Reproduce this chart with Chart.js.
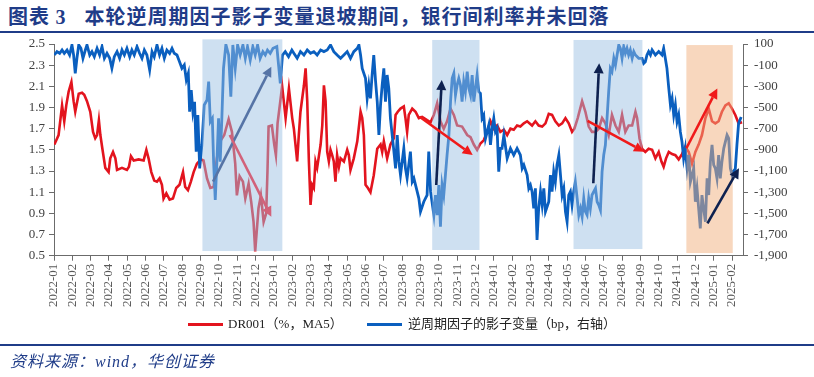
<!DOCTYPE html>
<html><head><meta charset="utf-8">
<script src="https://cdn.jsdelivr.net/npm/chart.js@4.4.1/dist/chart.umd.min.js"></script>
<style>
html,body{margin:0;padding:0;background:#fff;}
#wrap{position:relative;width:814px;height:377px;overflow:hidden;background:#fff;}
#title{position:absolute;left:8px;top:3px;font-weight:bold;font-size:20px;font-family:"Noto Sans CJK SC";color:#1F3C88;white-space:nowrap;letter-spacing:1px;line-height:26px}
#title .n{font-family:"Liberation Serif";}
.rule{position:absolute;left:0;width:814px;height:2px;background:#1F3C88}
canvas{position:absolute;left:0;top:0}
.legline{position:absolute;height:3px;width:35px}
.legtxt{position:absolute;top:316px;font-size:13px;line-height:16px;font-family:"Liberation Serif","Noto Sans CJK SC";color:#222;white-space:nowrap}
#src{position:absolute;left:10px;top:352px;font-size:16px;line-height:20px;font-style:italic;font-family:"Liberation Serif","Noto Sans CJK SC";color:#1F3C88;letter-spacing:1px;white-space:nowrap}
</style></head>
<body>
<div id="wrap">
  <div id="title">图表 <span class="n">3</span><span style="margin-left:18px">本轮逆周期因子影子变量退坡期间，银行间利率并未回落</span></div>
  <div class="rule" style="top:31px"></div>
  <canvas id="c" width="814" height="377"></canvas>
  <div class="legline" style="left:188px;top:323px;background:#E3141E"></div>
  <div class="legtxt" style="left:228px">DR001（%，MA5）</div>
  <div class="legline" style="left:367px;top:323px;background:#0A5FBF"></div>
  <div class="legtxt" style="left:408px">逆周期因子的影子变量（bp，右轴）</div>
  <div class="rule" style="top:344px"></div>
  <div id="src">资料来源：wind，华创证券</div>
</div>
<script>
// month tick labels (x value i = start of months[i])
const months = [];
for (let y = 2022; y <= 2025; y++) for (let m = 1; m <= 12; m++) {
  if (y === 2025 && m > 2) break;
  months.push(y + '-' + String(m).padStart(2, '0'));
}
const leftTicks = [0.5, 2.5, 0.2];
const rightTicks = [-1900, 100, 200];

// DR001 (%, MA5) — x in months since 2022-01
const drX = [0.02,0.25,0.44,0.56,0.67,0.8,0.95,1.07,1.16,1.35,1.53,1.65,1.8,1.98,2.13,2.25,2.35,2.45,2.53,2.64,2.8,2.98,3.07,3.22,3.35,3.44,3.71,3.98,4.09,4.2,4.35,4.62,4.89,5.04,5.16,5.31,5.47,5.62,5.76,5.89,5.98,6.13,6.31,6.49,6.67,6.85,7.04,7.16,7.31,7.47,7.62,7.8,8.02,8.16,8.35,8.53,8.71,8.89,9.07,9.29,9.53,9.71,9.89,9.98,10.13,10.31,10.44,10.62,10.76,10.89,10.98,11.16,11.29,11.44,11.58,11.65,11.71,11.89,12.02,12.11,12.2,12.35,12.45,
12.64,12.82,13.0,13.09,13.27,13.36,13.45,13.64,13.73,13.82,13.91,14.0,14.09,14.18,14.27,14.36,14.55,14.64,14.73,14.82,14.91,15.0,15.09,15.18,15.27,15.36,15.45,15.55,15.64,15.82,16.0,16.09,16.18,16.36,16.55,16.73,16.82,16.91,17.0,17.13,17.27,17.45,17.64,17.82,17.91,18.0,18.18,18.36,18.55,18.64,18.76,18.91,19.09,19.18,19.27,19.36,19.55,19.73,19.91,20.09,20.36,20.55,20.73,20.91,21.09,21.27,21.45,21.64,21.82,22.0,22.27,22.55,22.73,22.91,23.09,23.27,23.45,23.64,23.82,24.0,24.18,24.36,24.55,24.73,24.91,25.09,25.27,25.45,25.64,25.82,
26.09,26.27,26.45,26.64,26.82,27.0,27.18,27.36,27.55,27.73,27.91,28.09,28.27,28.4,28.58,28.82,29.0,29.18,29.36,29.55,29.73,29.91,30.09,30.27,30.45,30.64,30.82,31.0,31.18,31.36,31.55,31.73,31.82,31.95,32.09,32.27,32.45,32.64,32.82,33.0,33.15,33.27,33.4,33.55,33.73,33.91,34.09,34.27,34.45,34.64,34.82,35.0,35.18,35.36,35.55,35.73,35.91,36.09,36.27,36.45,36.64,36.82,37.0,37.18,37.36,37.55];
const drY = [1.55,1.64,1.92,1.77,1.92,2.05,2.14,1.96,1.86,2.03,2.04,2.02,1.96,1.86,1.67,1.61,1.64,1.78,1.64,1.51,1.33,1.29,1.42,1.48,1.42,1.31,1.33,1.31,1.34,1.44,1.40,1.41,1.40,1.50,1.42,1.29,1.21,1.20,1.23,1.17,1.04,1.09,1.03,1.04,1.14,1.17,1.29,1.15,1.12,1.20,1.29,1.37,1.41,1.40,1.23,1.14,1.15,1.42,1.58,1.64,1.79,1.67,1.37,1.07,1.25,1.20,1.04,1.18,1.01,0.82,0.54,0.95,1.07,0.82,0.90,1.30,1.72,1.73,1.55,1.45,1.75,1.96,2.10,
1.80,2.08,1.80,1.70,1.39,1.64,1.86,2.11,2.27,1.96,1.39,0.98,1.17,1.14,1.39,1.33,1.55,1.73,2.11,1.96,1.48,1.39,1.50,1.45,1.39,1.20,1.45,1.34,1.42,1.39,1.50,1.45,1.31,1.42,1.58,1.86,1.80,1.64,1.17,1.14,1.10,1.26,1.51,1.55,1.48,1.58,1.42,1.55,1.61,1.83,1.86,1.89,1.91,1.80,1.67,1.83,1.89,1.86,1.80,1.81,1.78,1.76,1.83,1.94,1.77,1.70,1.77,1.89,1.83,1.73,1.72,1.64,1.62,1.55,1.50,1.56,1.59,1.67,1.77,1.70,1.73,1.67,1.69,1.64,1.70,1.69,1.73,1.72,1.75,1.77,
1.73,1.77,1.73,1.72,1.75,1.84,1.83,1.77,1.73,1.75,1.80,1.75,1.67,1.70,1.80,1.96,1.86,1.72,1.67,1.67,1.70,1.80,1.75,1.64,1.83,1.73,1.67,1.83,1.67,1.73,1.73,1.86,1.80,1.61,1.51,1.48,1.51,1.50,1.42,1.48,1.39,1.34,1.42,1.48,1.46,1.45,1.41,1.46,1.53,1.48,1.37,1.48,1.55,1.64,1.80,1.89,1.77,1.75,1.77,1.86,1.92,1.94,1.89,1.83,1.75,1.76];

// Counter-cyclical factor shadow variable (bp, right axis)
const sfX = [0.02,0.16,0.31,0.44,0.56,0.71,0.85,0.98,1.07,1.16,1.25,1.35,1.47,1.58,1.71,1.8,1.95,2.07,2.2,2.35,2.49,2.62,2.75,2.89,3.04,3.16,3.29,3.44,3.58,3.71,3.84,3.98,4.13,4.25,4.38,4.53,4.67,4.8,4.93,5.07,5.22,5.35,5.47,5.62,5.76,5.89,6.02,6.16,6.31,6.44,6.56,6.71,6.85,6.98,7.11,7.22,7.33,7.4,7.49,7.58,7.67,7.76,7.85,7.95,8.07,8.2,8.35,8.44,8.53,8.64,8.71,8.8,8.89,8.98,9.07,9.16,9.25,9.38,9.53,9.65,9.76,9.89,10.02,10.16,10.31,10.44,10.56,10.71,10.85,10.98,11.11,11.25,11.4,11.53,11.65,11.8,11.95,12.16,12.35,12.47,12.62,12.8,12.98,
13.09,13.27,13.45,13.64,13.82,14.0,14.18,14.36,14.55,14.73,14.91,15.09,15.27,15.45,15.64,15.82,16.0,16.18,16.36,16.55,16.64,16.73,16.82,17.0,17.09,17.18,17.27,17.36,17.45,17.55,17.64,17.73,17.82,17.91,18.0,18.09,18.18,18.27,18.36,18.55,18.64,18.73,18.82,18.91,19.09,19.18,19.27,19.45,19.55,19.64,19.82,19.91,20.0,20.18,20.36,20.45,20.55,20.73,20.82,20.91,21.0,21.09,21.18,21.27,21.36,21.45,21.55,21.64,21.73,21.82,21.91,22.0,22.09,22.18,22.27,22.36,22.45,22.55,22.64,22.73,22.82,22.91,23.0,23.09,23.18,23.27,23.36,23.45,23.55,23.64,23.73,23.82,23.91,24.0,24.09,24.18,24.27,24.36,24.45,24.55,24.73,24.91,25.09,25.27,25.45,25.55,25.64,25.82,
25.91,26.0,26.09,26.18,26.27,26.36,26.45,26.55,26.64,26.73,26.82,27.0,27.09,27.18,27.27,27.36,27.45,27.55,27.64,27.73,27.82,27.91,28.0,28.09,28.18,28.27,28.36,28.45,28.55,28.64,28.73,28.82,28.91,29.0,29.09,29.18,29.27,29.36,29.55,29.64,29.73,29.82,29.91,30.0,30.09,30.18,30.27,30.36,30.45,30.55,30.64,30.73,30.82,30.91,31.0,31.09,31.18,31.27,31.36,31.45,31.55,31.64,31.73,31.91,32.09,32.18,32.27,32.36,32.45,32.55,32.64,32.82,33.0,33.18,33.27,33.36,33.45,33.55,33.64,33.73,33.82,33.91,34.0,34.09,34.18,34.27,34.36,34.45,34.55,34.64,34.73,34.82,34.91,35.0,35.09,35.18,35.27,35.36,35.45,35.55,35.64,35.73,35.82,35.91,36.0,36.09,36.18,36.27,36.36,36.45,36.55,36.64,36.73,36.82,36.91,37.0,37.09,37.18,37.27,37.36,37.5];
const sfY = [-4,28,12,43,12,43,-4,91,-4,-177,-35,91,59,-35,43,91,-4,28,-20,59,-4,75,-35,12,-35,-130,-20,28,-35,43,-4,59,-20,43,-4,75,12,-35,43,-4,-146,28,-20,91,-4,59,-35,43,12,59,12,-4,-67,-130,-98,-240,-177,-539,-335,-539,-445,-917,-571,-1075,-854,-476,-429,-256,-634,-602,-1012,-1374,-1012,-602,-1012,-602,-130,95,-4,-398,91,-130,91,-4,91,-35,75,-51,75,-4,91,-35,28,-4,43,12,59,75,-272,-4,28,-20,43,
12,-35,28,-4,43,12,28,-4,43,28,43,91,28,-4,-35,-4,28,-35,28,59,91,-4,-130,-224,-413,-287,-413,-193,-4,-256,-445,-760,-476,-287,-130,-445,-193,-319,-602,-917,-1075,-760,-1012,-1138,-886,-1075,-1169,-917,-1201,-1169,-1295,-1358,-1484,-1390,-1327,-917,-1295,-1516,-1327,-1516,-1232,-1626,-1232,-1327,-1138,-949,-760,-445,-224,-177,-382,-287,-224,-287,-445,-256,-350,-161,-319,-382,-193,-445,-319,-193,-350,-366,-602,-571,-791,-728,-665,-854,-697,-602,-728,-697,-1106,-886,-886,-760,-980,-886,-949,-886,-949,-1075,-1043,-1138,
-1264,-1232,-1295,-1453,-1264,-1752,-1453,-1295,-1421,-1264,-1484,-1390,-1138,-1295,-1106,-1201,-1043,-949,-1138,-1327,-1264,-1484,-1579,-1327,-1295,-1421,-1295,-1201,-1358,-1516,-1453,-1531,-1358,-1484,-1516,-1358,-1453,-1327,-1264,-1390,-1421,-1468,-1106,-949,-854,-602,-350,-130,-161,-35,-98,-4,91,59,-35,75,12,59,-4,43,-35,28,-4,-35,-35,-83,-67,-4,28,-4,43,-4,28,-4,59,-35,-130,-319,-476,-413,-571,-476,-634,-571,-728,-823,-980,-886,-1075,-949,-1201,-1138,-1075,-1390,-1264,-1453,-1642,-1327,-1453,-1579,-1169,-1327,-1012,-854,-1043,-1075,-1169,-949,-1169,-1012,-886,-823,-760,-791,-1075,-1138,-1100,-1080,-850,-650,-590];

// shaded periods [from, to] in months, vertical extent in left-axis units
const shadeFrom   = [8.10, 20.64, 28.35, 34.51];
const shadeTo     = [12.46, 23.22, 32.11, 37.04];
const shadeTop    = [2.544, 2.538, 2.538, 2.49];
const shadeBottom = [0.544, 0.554, 0.563, 0.525];
const shadeColor  = ['rgba(156,191,226,0.49)','rgba(156,191,226,0.49)','rgba(156,191,226,0.49)','rgba(241,175,125,0.5)'];

// arrows: start/end in (months, left-axis value)
const arrowX0 = [8.68, 9.59, 20.86, 19.95, 29.43, 29.12, 34.51, 35.66];
const arrowY0 = [1.199, 1.64, 1.168, 1.813, 1.184, 1.773, 1.515, 0.806];
const arrowX1 = [11.86, 11.86, 21.16, 22.85, 29.75, 32.2, 36.2, 37.38];
const arrowY1 = [2.286, 0.868, 2.16, 1.451, 2.318, 1.483, 2.08, 1.326];
const arrowColor = ['#5674A6','#D2627A','#0E2150','#F01A1A','#0E2150','#F01A1A','#F01A1A','#0E2150'];

const annot = {
  id: 'annot',
  afterDatasetsDraw(chart) {
    const {ctx, scales: {x, y}} = chart;
    ctx.save();
    shadeFrom.forEach((f, i) => {
      const x0 = x.getPixelForValue(f), x1 = x.getPixelForValue(shadeTo[i]);
      const y0 = y.getPixelForValue(shadeTop[i]), y1 = y.getPixelForValue(shadeBottom[i]);
      ctx.fillStyle = shadeColor[i];
      ctx.fillRect(x0, y0, x1 - x0, y1 - y0);
    });
    arrowX0.forEach((ax, i) => {
      const px0 = x.getPixelForValue(ax), py0 = y.getPixelForValue(arrowY0[i]);
      const px1 = x.getPixelForValue(arrowX1[i]), py1 = y.getPixelForValue(arrowY1[i]);
      const ang = Math.atan2(py1 - py0, px1 - px0);
      const hl = 10, hw = 5;
      const bx = px1 - hl * Math.cos(ang), by = py1 - hl * Math.sin(ang);
      ctx.strokeStyle = arrowColor[i];
      ctx.fillStyle = arrowColor[i];
      ctx.lineWidth = 2.6;
      ctx.beginPath(); ctx.moveTo(px0, py0); ctx.lineTo(bx, by); ctx.stroke();
      ctx.beginPath();
      ctx.moveTo(px1, py1);
      ctx.lineTo(bx + hw * Math.sin(ang), by - hw * Math.cos(ang));
      ctx.lineTo(bx - hw * Math.sin(ang), by + hw * Math.cos(ang));
      ctx.closePath(); ctx.fill();
    });
    ctx.restore();
  }
};

const tickFont = {family: 'Liberation Serif', size: 13};
new Chart(document.getElementById('c'), {
  type: 'line',
  data: {
    datasets: [
      {label: 'DR001（%，MA5）', data: drX.map((v, i) => ({x: v, y: drY[i]})), yAxisID: 'y',
       borderColor: '#E3141E', borderWidth: 2.6, pointRadius: 0, tension: 0, order: 1},
      {label: '逆周期因子的影子变量（bp，右轴）', data: sfX.map((v, i) => ({x: v, y: sfY[i]})), yAxisID: 'y1',
       borderColor: '#0A5FBF', borderWidth: 2.8, pointRadius: 0, tension: 0, order: 0}
    ]
  },
  options: {
    responsive: false, animation: false, devicePixelRatio: 1,
    layout: {padding: {top: 44, bottom: 61.3, left: 0, right: 0}},
    plugins: {legend: {display: false}, tooltip: {enabled: false}},
    scales: {
      x: {
        type: 'linear', min: 0, max: 37.6,
        afterBuildTicks: s => { s.ticks = months.map((m, i) => ({value: i})); },
        ticks: {autoSkip: false, maxRotation: 90, minRotation: 90, padding: 3, color: '#595959', font: tickFont,
                callback: v => months[v] ?? ''},
        grid: {display: true, drawOnChartArea: false, tickLength: 5, color: '#6b6b6b'},
        border: {color: '#6b6b6b', width: 1},
        afterFit: s => { s.height = 60; }
      },
      y: {
        position: 'left', min: leftTicks[0], max: leftTicks[1],
        ticks: {stepSize: leftTicks[2], color: '#404040', font: tickFont, padding: 4, callback: v => Number(v).toFixed(1)},
        grid: {display: true, drawOnChartArea: false, tickLength: 5, color: '#6b6b6b'},
        border: {color: '#6b6b6b', width: 1},
        afterFit: s => { s.width = 54; }
      },
      y1: {
        position: 'right', min: rightTicks[0], max: rightTicks[1],
        ticks: {stepSize: rightTicks[2], color: '#404040', font: tickFont, padding: 6,
                callback: v => Math.round(v).toLocaleString('en-US')},
        grid: {display: true, drawOnChartArea: false, tickLength: 5, color: '#6b6b6b'},
        border: {color: '#6b6b6b', width: 1},
        afterFit: s => { s.width = 71; }
      }
    }
  },
  plugins: [annot]
});
</script>
</body></html>
